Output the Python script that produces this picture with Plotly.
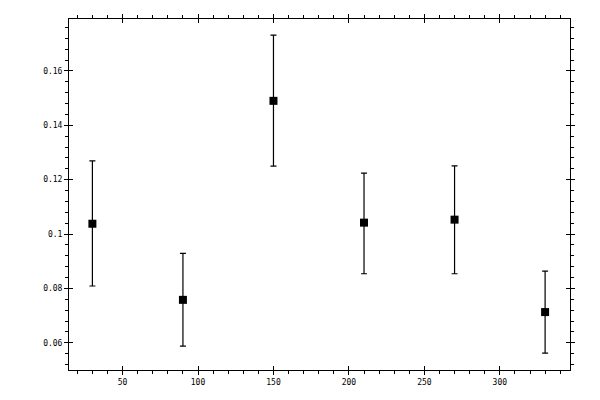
import plotly.graph_objects as go

angles = [30, 90, 150, 210, 270, 330]
values = [0.1038, 0.0758, 0.1490, 0.1042, 0.1053, 0.0713]
err_plus = [0.0231, 0.0171, 0.0242, 0.0182, 0.0198, 0.0151]
err_minus = [0.0229, 0.0170, 0.0240, 0.0188, 0.0199, 0.0151]

x_range = [14.5, 346.5]
y_range = [0.0500, 0.1791]

fig = go.Figure()
fig.add_trace(go.Scatter(
    x=angles, y=values, mode="markers",
    marker=dict(symbol="square", size=8, color="black", line=dict(width=0)),
    error_y=dict(type="data", symmetric=False, array=err_plus, arrayminus=err_minus,
                 color="black", thickness=1.2, width=3),
    showlegend=False, hoverinfo="skip",
))
# invisible trace to anchor overlay axes (for crossing major ticks)
fig.add_trace(go.Scatter(x=[angles[0]], y=[values[0]], xaxis="x2", yaxis="y2",
                         mode="markers", marker=dict(opacity=0), showlegend=False,
                         hoverinfo="skip"))

font = dict(family="DejaVu Sans Mono", size=8, color="black")
common = dict(showgrid=False, zeroline=False, showline=True, linecolor="black",
              linewidth=1, tickcolor="black", tickwidth=1)

fig.update_layout(
    width=600, height=400,
    margin=dict(l=61, r=38, t=11, b=38, autoexpand=False),
    paper_bgcolor="white", plot_bgcolor="white",
    xaxis=dict(range=x_range, dtick=50, tick0=0, ticks="outside", ticklen=4,
               mirror="ticks", tickfont=font,
               minor=dict(dtick=10, tick0=0, ticks="outside", ticklen=3,
                          tickcolor="black", tickwidth=1),
               **common),
    yaxis=dict(range=y_range, dtick=0.02, tick0=0, ticks="outside", ticklen=4,
               mirror="ticks", tickfont=font,
               minor=dict(dtick=0.004, tick0=0, ticks="outside", ticklen=3,
                          tickcolor="black", tickwidth=1),
               **common),
    xaxis2=dict(range=x_range, dtick=50, tick0=0, ticks="inside", ticklen=4,
                mirror="ticks", overlaying="x", matches="x", anchor="y2",
                showticklabels=False, **common),
    yaxis2=dict(range=y_range, dtick=0.02, tick0=0, ticks="inside", ticklen=4,
                mirror="ticks", overlaying="y", matches="y", anchor="x2",
                showticklabels=False, **common),
)

fig.write_html("out.html")
